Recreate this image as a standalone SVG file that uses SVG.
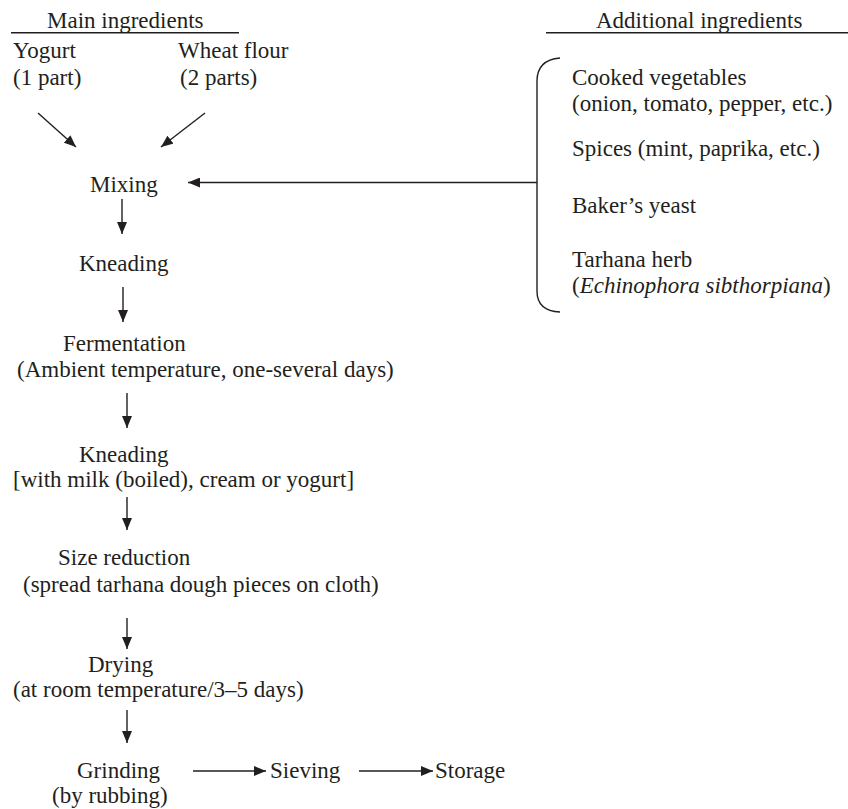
<svg xmlns="http://www.w3.org/2000/svg" width="848" height="809" viewBox="0 0 848 809">
<defs>
<style>
text{font-family:"Liberation Serif","Times New Roman",serif;font-size:23px;fill:#231f20}
.ln{stroke:#231f20;stroke-width:1.4;fill:none}
.ar{stroke:#231f20;stroke-width:1.4;fill:none;marker-end:url(#ah)}
</style>
<marker id="ah" viewBox="0 0 12 10" refX="12" refY="5" markerWidth="12" markerHeight="10" markerUnits="userSpaceOnUse" orient="auto">
<path d="M0,0 L12,5 L0,10 Z" fill="#231f20"/>
</marker>
</defs>
<rect width="848" height="809" fill="#fff"/>
<g id="main-header">
<text x="47" y="28">Main ingredients</text>
<line class="ln" x1="11" y1="32.7" x2="239" y2="32.7"/>
</g>
<g id="yogurt"><text x="13" y="58">Yogurt</text><text x="13" y="85">(1 part)</text></g>
<g id="wheat"><text x="178" y="58">Wheat flour</text><text x="180" y="85">(2 parts)</text></g>
<g id="additional-header">
<text x="596" y="28">Additional ingredients</text>
<line class="ln" x1="546" y1="32.7" x2="848" y2="32.7"/>
</g>
<g id="additional">
<path class="ln" d="M560,58 Q537,60 537,81 L537,291 Q537,311 560,312"/>
<text x="572" y="84.5">Cooked vegetables</text>
<text x="572" y="110.5">(onion, tomato, pepper, etc.)</text>
<text x="572" y="156">Spices (mint, paprika, etc.)</text>
<text x="572" y="213">Baker’s yeast</text>
<text x="572" y="266.5">Tarhana herb</text>
<text x="572" y="293">(<tspan font-style="italic">Echinophora sibthorpiana</tspan>)</text>
</g>
<g id="mixing"><text x="90" y="192">Mixing</text></g>
<g id="kneading1"><text x="79" y="271">Kneading</text></g>
<g id="fermentation"><text x="63" y="350.5">Fermentation</text><text x="17" y="377">(Ambient temperature, one-several days)</text></g>
<g id="kneading2"><text x="79" y="462">Kneading</text><text x="13" y="487">[with milk (boiled), cream or yogurt]</text></g>
<g id="size-reduction"><text x="58" y="565">Size reduction</text><text x="23" y="592">(spread tarhana dough pieces on cloth)</text></g>
<g id="drying"><text x="88" y="672">Drying</text><text x="13" y="697">(at room temperature/3–5 days)</text></g>
<g id="grinding"><text x="77" y="778">Grinding</text><text x="52" y="803">(by rubbing)</text></g>
<g id="sieving"><text x="270" y="778">Sieving</text></g>
<g id="storage"><text x="435" y="778">Storage</text></g>
<g id="connectors">
<line class="ar" x1="38" y1="113" x2="76" y2="147"/>
<line class="ar" x1="205" y1="113" x2="161" y2="147"/>
<line class="ar" x1="537" y1="182.5" x2="188" y2="182.5"/>
<line class="ar" x1="122" y1="199" x2="122" y2="234"/>
<line class="ar" x1="123" y1="287" x2="123" y2="322"/>
<line class="ar" x1="127" y1="393" x2="127" y2="428"/>
<line class="ar" x1="127" y1="497" x2="127" y2="530"/>
<line class="ar" x1="127" y1="618" x2="127" y2="649"/>
<line class="ar" x1="127" y1="710" x2="127" y2="743"/>
<line class="ar" x1="193" y1="771" x2="266" y2="771"/>
<line class="ar" x1="359" y1="771" x2="433" y2="771"/>
</g>
</svg>
